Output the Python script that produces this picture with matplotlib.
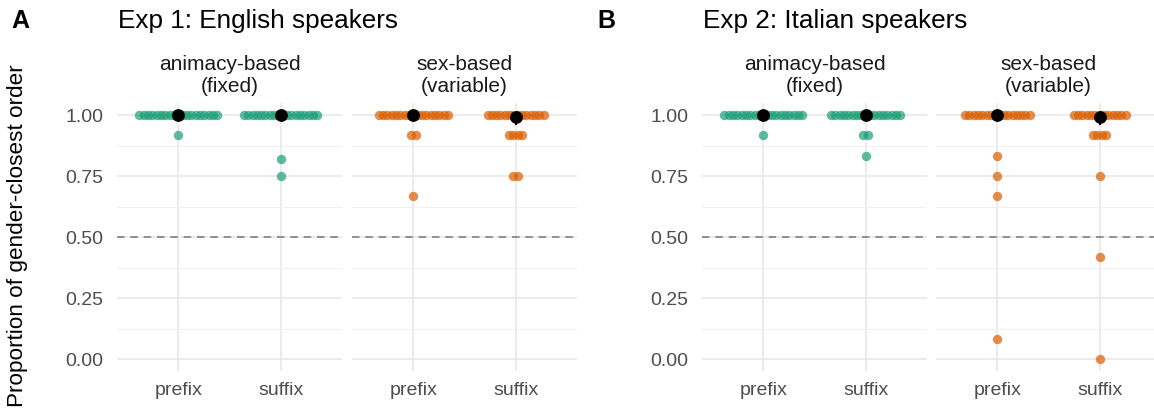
import matplotlib
matplotlib.use("Agg")
import matplotlib.pyplot as plt
import numpy as np

plt.rcParams['font.family'] = ['Liberation Sans', 'DejaVu Sans']

# participant-level proportions: distinct values and how many participants have each
conditions = ["prefix", "suffix"]
facets = ["animacy-based\n(fixed)", "sex-based\n(variable)"]
titles = ["Exp 1: English speakers", "Exp 2: Italian speakers"]
panel_tags = ["A", "B"]

exp1_anim_prefix = ([1.00, 0.917], [19, 1])
exp1_anim_suffix = ([1.00, 0.818, 0.75], [18, 1, 1])
exp1_sex_prefix = ([1.00, 0.917, 0.667], [17, 2, 1])
exp1_sex_suffix = ([1.00, 0.917, 0.75], [14, 4, 2])
exp2_anim_prefix = ([1.00, 0.917], [19, 1])
exp2_anim_suffix = ([1.00, 0.917, 0.833], [17, 2, 1])
exp2_sex_prefix = ([1.00, 0.833, 0.75, 0.667, 0.083], [16, 1, 1, 1, 1])
exp2_sex_suffix = ([1.00, 0.917, 0.75, 0.417, 0.0], [13, 4, 1, 1, 1])

# model estimates (point, lower, upper) per condition
exp1_est = [[(0.999, 0.995, 1.0), (0.998, 0.993, 1.0)],
            [(0.998, 0.990, 1.0), (0.992, 0.965, 0.998)]]
exp2_est = [[(0.999, 0.995, 1.0), (0.998, 0.992, 1.0)],
            [(0.998, 0.990, 1.0), (0.991, 0.962, 0.998)]]

exp_data = [
    [[exp1_anim_prefix, exp1_anim_suffix], [exp1_sex_prefix, exp1_sex_suffix]],
    [[exp2_anim_prefix, exp2_anim_suffix], [exp2_sex_prefix, exp2_sex_suffix]],
]
exp_est = [exp1_est, exp2_est]
colors = ["#1b9e77", "#d95f02"]

W, H = 1154, 414
fig = plt.figure(figsize=(W / 100, H / 100), dpi=100)

# axes left/right edges in pixels
ax_px = [[(117, 342), (352, 577)], [(702, 927), (936, 1161)]]
top_px, bot_px = 103.8, 372.2
step = 0.0423  # horizontal dot spacing in category units

for e in range(2):
    for f in range(2):
        x0, x1 = ax_px[e][f]
        ax = fig.add_axes([x0 / W, 1 - bot_px / H, (x1 - x0) / W, (bot_px - top_px) / H])
        ax.set_xlim(-0.6, 1.6)
        ax.set_ylim(-0.05, 1.05)
        for s in ax.spines.values():
            s.set_visible(False)
        ax.set_yticks([0, 0.25, 0.5, 0.75, 1.0])
        ax.set_yticks([0.125, 0.375, 0.625, 0.875], minor=True)
        ax.set_xticks([0, 1])
        ax.set_xticklabels(conditions)
        ax.grid(True, which='major', color='#e8e8e8', lw=1.2)
        ax.grid(True, which='minor', axis='y', color='#f0f0f0', lw=0.7)
        ax.tick_params(which='both', length=0, labelsize=14, colors='#4d4d4d', pad=7)
        ax.tick_params(axis='y', pad=10)
        if f == 0:
            ax.set_yticklabels(["0.00", "0.25", "0.50", "0.75", "1.00"])
        else:
            ax.set_yticklabels([])
        ax.set_axisbelow(True)
        ax.axhline(0.5, color='#808080', lw=1.2, ls=(0, (4.5, 3.5)), zorder=1)
        for c in range(2):
            vals, counts = exp_data[e][f][c]
            xs, ys = [], []
            for v, n in zip(vals, counts):
                off = (np.arange(n) - (n - 1) / 2) * step
                xs.extend(c + off)
                ys.extend([v] * n)
            ax.scatter(xs, ys, s=46, color=colors[f], alpha=0.7, lw=0, zorder=3)
            m, lo, hi = exp_est[e][f][c]
            ax.plot([c, c], [lo, hi], color='black', lw=1.5, zorder=4)
            ax.scatter([c], [m], s=85, color='black', lw=0, zorder=5)
        ax.text(0.5, 1.03, facets[f], transform=ax.transAxes, ha='center', va='bottom',
                fontsize=15, color='#1a1a1a', linespacing=1.15)
    fig.text(ax_px[e][0][0] / W + 0.001, 1 - 21 / H, titles[e], fontsize=18.8, va='center', ha='left')
    fig.text((11 if e == 0 else 597) / W, 1 - 21 / H, panel_tags[e], fontsize=18,
             fontweight='bold', va='center', ha='left')

fig.text(18 / W, 1 - 236 / H, "Proportion of gender-closest order", rotation=90,
         fontsize=16.2, va='center', ha='center')

fig.savefig("out.png", dpi=100)
